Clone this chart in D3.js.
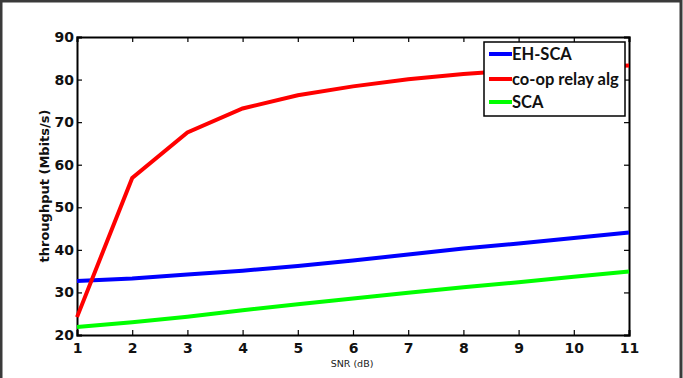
<!DOCTYPE html>
<html lang="en">
	<head>
		<meta charset="utf-8">
		<title>Throughput vs SNR</title>
		<script src="https://d3js.org/d3.v7.min.js"></script>
		<style>
			body { margin: 0; background: #fff; }
		</style>
	</head>
	<body>
		<script type="text/javascript">

			// data
			var snr = [1, 2, 3, 4, 5, 6, 7, 8, 9, 10, 11];
			var ehSca = [32.7, 33.3, 34.2, 35.1, 36.2, 37.5, 38.9, 40.3, 41.5, 42.8, 44.1];
			var coopRelay = [24.2, 56.9, 67.6, 73.2, 76.3, 78.4, 80.1, 81.3, 82.2, 82.8, 83.3];
			var sca = [21.9, 23.0, 24.3, 25.8, 27.2, 28.6, 29.9, 31.2, 32.4, 33.7, 34.9];
			var seriesNames = ["EH-SCA", "co-op relay alg", "SCA"];
			var seriesColors = ["#0000ff", "#ff0000", "#00ff00"];
			var xTicks = [1, 2, 3, 4, 5, 6, 7, 8, 9, 10, 11];
			var yTicks = [20, 30, 40, 50, 60, 70, 80, 90];

			var w = 683;
			var h = 378;
			// plot box edges (window.top is taken, so prefixed names)
			var pLeft = 77, pRight = 629, pTop = 37, pBottom = 335;

			var xScale = d3.scaleLinear().domain([1, 11]).range([pLeft, pRight]);
			var yScale = d3.scaleLinear().domain([20, 90]).range([pBottom, pTop]);

			var svg = d3.select("body").append("svg").attr("width", w).attr("height", h);

			// grey frame round the figure (no bottom edge)
			svg.append("path")
				.attr("d", "M1,378 V1 H681 V378")
				.attr("fill", "none")
				.attr("stroke", "#3a3a3a")
				.attr("stroke-width", 3);

			// axes, ticks pointing inward like matlab
			var tickFont = "'DejaVu Sans', sans-serif";
			var gx = svg.append("g")
				.attr("transform", "translate(0," + pBottom + ")")
				.call(d3.axisBottom(xScale).tickValues(xTicks).tickSize(-5).tickPadding(8).tickFormat(d3.format("d")));
			var gy = svg.append("g")
				.attr("transform", "translate(" + pLeft + ",0)")
				.call(d3.axisLeft(yScale).tickValues(yTicks).tickSize(-5).tickPadding(9).tickFormat(d3.format("d")));
			svg.append("g")
				.attr("transform", "translate(0," + pTop + ")")
				.call(d3.axisTop(xScale).tickValues(xTicks).tickSize(-5).tickFormat(""));
			svg.append("g")
				.attr("transform", "translate(" + pRight + ",0)")
				.call(d3.axisRight(yScale).tickValues(yTicks).tickSize(-5).tickFormat(""));

			svg.selectAll(".domain").attr("stroke", "#000").attr("stroke-width", 2);
			svg.selectAll(".tick line").attr("stroke", "#000").attr("stroke-width", 1.2);

			gx.selectAll("text").attr("font-family", tickFont).attr("font-weight", "bold")
				.attr("font-size", "14px").attr("fill", "#111");
			gy.selectAll("text").attr("font-family", tickFont).attr("font-weight", "bold")
				.attr("font-size", "14px").attr("fill", "#111").attr("x", -3);

			// axis titles
			svg.append("text")
				.attr("x", 352).attr("y", 367)
				.attr("text-anchor", "middle")
				.attr("font-family", tickFont)
				.attr("font-size", "9.5px")
				.attr("fill", "#222")
				.text("SNR (dB)");

			svg.append("text")
				.attr("transform", "translate(49," + ((pTop + pBottom) / 2) + ") rotate(-90)")
				.attr("text-anchor", "middle")
				.attr("font-family", tickFont)
				.attr("font-weight", "bold")
				.attr("font-size", "13px")
				.attr("fill", "#111")
				.text("throughput (Mbits/s)");

			// lines
			var allSeries = [ehSca, coopRelay, sca];
			var line = d3.line()
				.x(function(d, i) { return xScale(snr[i]); })
				.y(function(d) { return yScale(d); });

			svg.selectAll(".series")
				.data(allSeries)
				.enter()
				.append("path")
				.attr("class", "series")
				.attr("d", line)
				.attr("fill", "none")
				.attr("stroke", function(d, i) { return seriesColors[i]; })
				.attr("stroke-width", 4);

			// legend
			var lg = svg.append("g").attr("transform", "translate(484,42)");
			lg.append("rect")
				.attr("width", 141).attr("height", 74)
				.attr("fill", "#fff")
				.attr("stroke", "#000")
				.attr("stroke-width", 1.5);
			var items = lg.selectAll(".item")
				.data(seriesNames)
				.enter()
				.append("g")
				.attr("transform", function(d, i) { return "translate(0," + [12, 37, 60][i] + ")"; });
			items.append("line")
				.attr("x1", 5).attr("x2", 28)
				.attr("stroke", function(d, i) { return seriesColors[i]; })
				.attr("stroke-width", 4);
			items.append("text")
				.attr("x", 28).attr("y", 6)
				.attr("font-family", "Lato, sans-serif")
				.attr("font-weight", "bold")
				.attr("font-size", "16.5px")
				.attr("fill", "#111")
				.text(function(d) { return d; });

		</script>
	</body>
</html>
